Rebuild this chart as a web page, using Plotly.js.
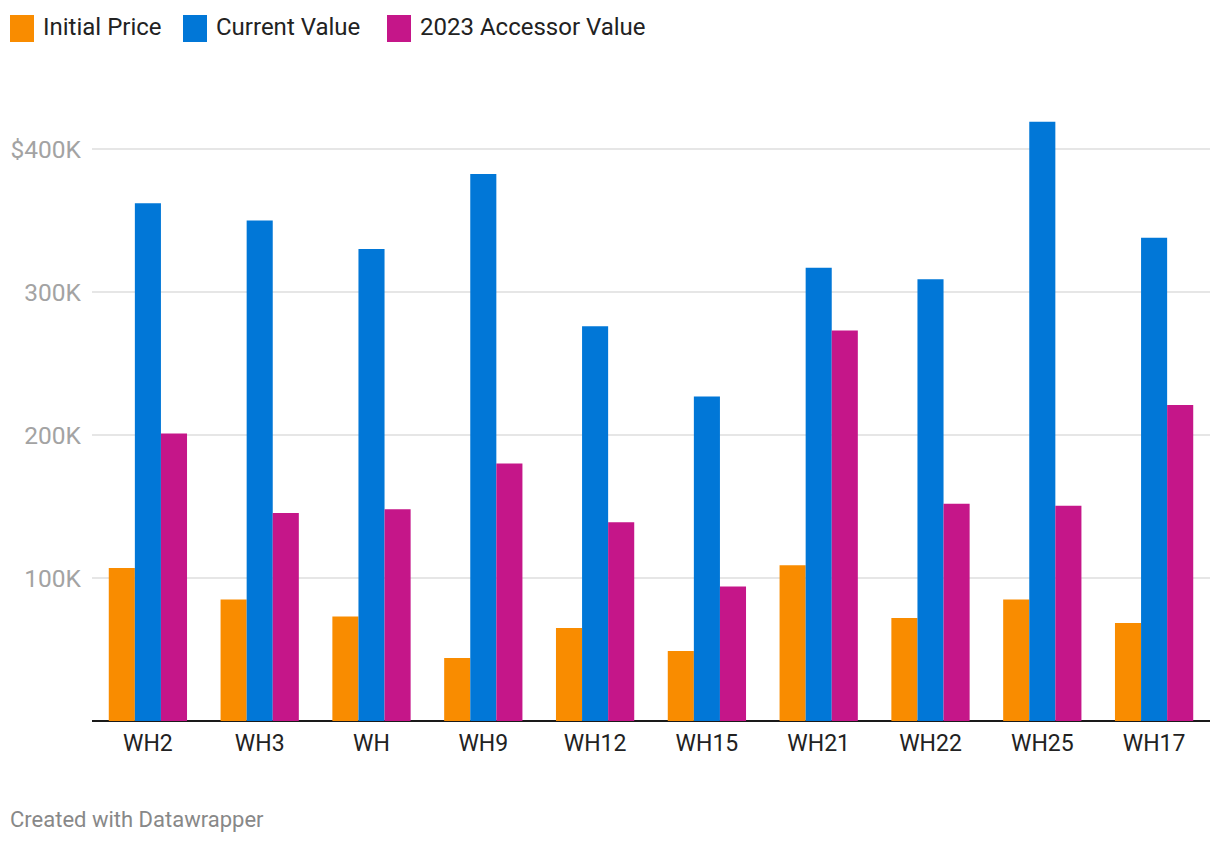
<!DOCTYPE html>
<html>
<head>
<meta charset="utf-8">
<script src="https://cdn.plot.ly/plotly-3.0.1.min.js"></script>
<style>
html,body{margin:0;padding:0;background:#fff;}
#chart{width:1220px;height:844px;}
</style>
</head>
<body>
<div id="chart"></div>
<script>
const categories = ["WH2","WH3","WH","WH9","WH12","WH15","WH21","WH22","WH25","WH17"];
const initialPrice = [107000, 85000, 73000, 44000, 65000, 49000, 109000, 72000, 85000, 68500];
const currentValue = [362000, 350000, 330000, 382500, 276000, 227000, 317000, 309000, 419000, 338000];
const accessorValue = [201000, 145500, 148000, 180000, 139000, 94000, 273000, 152000, 150500, 221000];
const seriesNames = ["Initial Price","Current Value","2023 Accessor Value"];
const seriesColors = ["#f98c00","#0177d7","#c51689"];
const yTickVals = [100000, 200000, 300000, 400000];
const yTickText = ["100K","200K","300K","$400K"];

const W = 1220, H = 844;
const ml = 92, mr = 10, mt = 100, mb = 123;
const pw = W - ml - mr, ph = H - mt - mb;
const px2x = p => (p - ml) / pw;
const py2y = p => (H - mb - p) / ph;

const allSeries = [initialPrice, currentValue, accessorValue];
const traces = allSeries.map((vals, i) => ({
  type: 'bar',
  x: categories,
  y: vals,
  name: seriesNames[i],
  marker: {color: seriesColors[i]},
  hoverinfo: 'x+y+name'
}));

// custom legend
const legendX = [10, 183, 387];
const shapes = [];
const annotations = [];
seriesNames.forEach((n, i) => {
  shapes.push({type:'rect', xref:'paper', yref:'paper',
    x0: px2x(legendX[i]), x1: px2x(legendX[i] + 24),
    y0: py2y(42), y1: py2y(15),
    fillcolor: seriesColors[i], line:{width:0}});
  annotations.push({xref:'paper', yref:'paper', x: px2x(legendX[i] + 31), y: py2y(27),
    xanchor:'left', yanchor:'middle', showarrow:false, text:n,
    font:{family:'Roboto', size:24, color:'#222'}});
});
annotations.push({xref:'paper', yref:'paper', x: px2x(8), y: py2y(819),
  xanchor:'left', yanchor:'middle', showarrow:false, text:'Created with Datawrapper',
  font:{family:'Roboto', size:22, color:'#888'}});

const layout = {
  width: W, height: H,
  margin: {l: ml, r: mr, t: mt, b: mb, pad: 0},
  paper_bgcolor: '#fff', plot_bgcolor: '#fff',
  barmode: 'group', bargap: 0.3, bargroupgap: 0,
  showlegend: false,
  font: {family: 'Roboto', size: 20, color: '#222'},
  xaxis: {
    type: 'category', range: [-0.5, 9.5],
    showgrid: false, zeroline: false, showline: false,
    ticks: '', tickfont: {family:'Roboto', size: 23, color: '#222'},
    ticklabelstandoff: 6, fixedrange: true
  },
  yaxis: {
    range: [0, (H - mt - mb) / 1.43 * 1000],
    tickvals: yTickVals, ticktext: yTickText,
    showgrid: true, gridcolor: '#e6e6e6', gridwidth: 2,
    zeroline: true, zerolinecolor: '#1a1a1a', zerolinewidth: 2,
    showline: false, ticks: '',
    tickfont: {family:'Roboto', size: 24.5, color: '#a3a3a3'},
    ticklabelstandoff: 10, fixedrange: true
  },
  shapes: shapes,
  annotations: annotations
};

Plotly.newPlot('chart', traces, layout, {displayModeBar: false, responsive: false});
</script>
</body>
</html>
